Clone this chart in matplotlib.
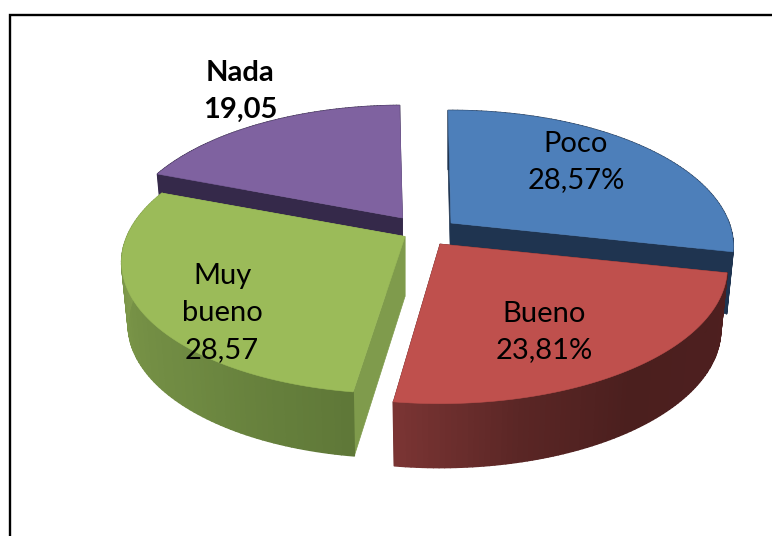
import numpy as np
import matplotlib
matplotlib.use("Agg")
import matplotlib.pyplot as plt
from matplotlib.colors import LinearSegmentedColormap
from matplotlib.collections import PolyCollection
from matplotlib.patches import Polygon

# --- data ---
categories = ["Poco", "Bueno", "Muy\nbueno", "Nada"]
values = [28.57, 23.81, 28.57, 19.05]
value_labels = ["28,57%", "23,81%", "28,57", "19,05"]

# --- style / layout ---
top_colors = ["#4d7fba", "#bf504d", "#9bbb59", "#7f62a0"]
cut_colors = ["#1f3450", "#4c1f1e", "#7f9b4c", "#35294a"]
wall_stops = [
    ["#1f3450", "#1f3450"],
    ["#4e1f1f", "#4d1f1f", "#4b1f1e", "#5a2625", "#7a3433"],
    ["#5f7838", "#6f8a42", "#7a9548", "#8aa652"],
    ["#35294a", "#35294a"],
]
centers = [(451, 223), (440, 244), (405, 236.5), (402.5, 218)]
radius_x = [278.0, 283.0, 278.0, 278.0]
radius_y = [132.0, 132.0, 130.0, 132.0]
shear = [0.0, 0.0, -6.0, 0.0]
label_xy = [(576, 162), (544, 332), (222, 313), (240, 91)]
bold = [False, False, False, True]
K = 0.173
START = -0.7
BOTTOM_X = 0.977
plt.rcParams["font.family"] = ["Lato", "DejaVu Sans"]

fig = plt.figure(figsize=(7.72, 5.36), dpi=100)
ax = fig.add_axes([0, 0, 1, 1])
ax.set_xlim(0, 772)
ax.set_ylim(536, 0)
ax.axis("off")


def top_xy(theta, i):
    t = np.radians(theta)
    u, v = np.sin(t), -np.cos(t)
    s = 1 / (1 - K * v)
    c = centers[i]
    return c[0] + radius_x[i] * u * s + shear[i] * v, c[1] + radius_y[i] * v * s


def bottom_xy(theta, i):
    x, y = top_xy(theta, i)
    v = -np.cos(np.radians(theta))
    cx = centers[i][0]
    return cx + (x - cx) * BOTTOM_X, y + 61.5 + 2.5 * v


def rim(theta, i, fn):
    x, y = fn(theta, i)
    return np.column_stack([x, y])


total = sum(values)
bounds = START + np.concatenate([[0], np.cumsum(values)]) * 360 / total
order = [2, 4, 3, 1]  # painter's order: back slices first


def draw_slice(i):
    a0, a1 = bounds[i], bounds[i + 1]
    c = centers[i]
    th = np.linspace(a0, a1, 90)
    tp = rim(th, i, top_xy)
    bt = rim(th, i, bottom_xy)
    apex_bottom = (c[0], c[1] + 60)
    # cut faces
    for end, b in ((tp[0], bt[0]), (tp[-1], bt[-1])):
        ax.add_patch(Polygon([c, end, b, apex_bottom], closed=True,
                             fc=cut_colors[i], ec=cut_colors[i], lw=0.5, zorder=order[i]))
    # outer wall with gradient
    cmap = LinearSegmentedColormap.from_list("w", wall_stops[i])
    quads = [[tp[k], tp[k + 1], bt[k + 1], bt[k]] for k in range(len(th) - 1)]
    cols = cmap(np.linspace(0, 1, len(quads)))
    ax.add_collection(PolyCollection(quads, facecolors=cols, edgecolors=cols,
                                     linewidths=1.1, zorder=order[i] + 0.1))
    # top face
    ax.add_patch(Polygon(np.vstack([[c], tp]), closed=True, fc=top_colors[i],
                         ec=top_colors[i], lw=0.4, zorder=order[i] + 0.2))


for i in range(len(values)):
    draw_slice(i)

for i in range(len(values)):
    ax.text(*label_xy[i], f"{categories[i]}\n{value_labels[i]}", ha="center", va="center",
            fontsize=21, color="black", fontweight="bold" if bold[i] else "normal",
            linespacing=1.52, zorder=10)

# chart border (left and top edges visible only)
ax.plot([10, 10, 772], [536, 15, 15], color="black", lw=1.7, zorder=11,
        solid_joinstyle="miter", clip_on=False)

fig.savefig("out.png", dpi=100, facecolor="white")
